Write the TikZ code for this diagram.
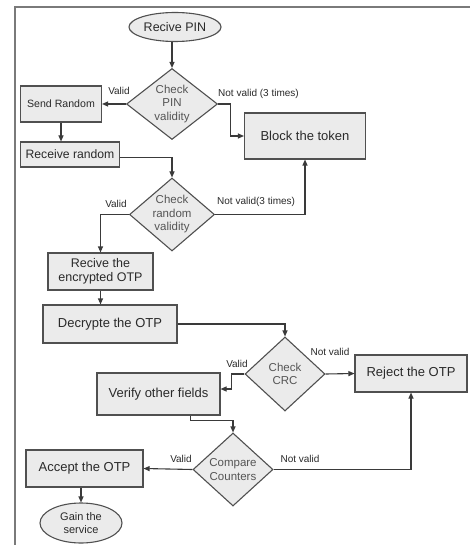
\documentclass[tikz,border=0pt]{standalone}
\usepackage{fontspec}
\setmainfont{Liberation Sans}
\usetikzlibrary{shapes.geometric,arrows.meta}
\definecolor{boxfill}{HTML}{EBEBEB}
\definecolor{edgec}{HTML}{505050}
\definecolor{linec}{HTML}{3A3A3A}
\definecolor{framec}{HTML}{7A7A7A}
\definecolor{txtc}{HTML}{2A2A2A}
\begin{document}
\begin{tikzpicture}[x=1pt,y=-1pt,
  box/.style={rectangle,draw=edgec,fill=boxfill,line width=1.1pt,inner sep=1pt,align=center,text=txtc,font=\fontsize{13}{15}\selectfont},
  oval/.style={ellipse,draw=edgec,fill=boxfill,line width=1.1pt,inner sep=0pt,align=center,text=txtc,font=\fontsize{12.5}{14}\selectfont},
  dia/.style={diamond,draw=edgec,fill=boxfill,line width=1.1pt,inner sep=0pt,shape aspect=1},
  dtext/.style={align=center,text=txtc!80,font=\fontsize{11.5}{13.5}\selectfont,inner sep=0pt},
  lab/.style={text=txtc,font=\fontsize{10}{12}\selectfont,inner sep=0pt},
  conn/.style={draw=linec,line width=1.1pt},
  arr/.style={conn,-{Triangle[length=6pt,width=5pt]}}
]
\useasboundingbox (0,0) rectangle (470,545);
\fill[white] (0,0) rectangle (470,545);
\draw[framec,line width=2pt] (15,545) -- (15,7) -- (470,7);

% nodes
\node[oval,minimum width=92,minimum height=29] (start) at (175,27) {Recive PIN};
\node[dia,minimum width=91,minimum height=71] (d1) at (172,104) {};
\node[dtext] at (d1) {Check\\PIN\\validity};
\node[box,minimum width=81,minimum height=36,font=\fontsize{10.6}{12}\selectfont] (sr) at (61,104) {Send Random};
\node[box,minimum width=121,minimum height=46] (block) at (305,136) {Block the token};
\node[box,minimum width=99,minimum height=25,font=\fontsize{12.2}{14}\selectfont] (rr) at (70,154.5) {Receive random};
\node[dia,minimum width=85,minimum height=73] (d2) at (172,214.5) {};
\node[dtext] at (d2) {Check\\random\\validity};
\node[box,minimum width=105,minimum height=37,font=\fontsize{12.5}{14.5}\selectfont] (enc) at (100.5,271.5) {Recive the\\encrypted OTP};
\node[box,minimum width=134,minimum height=38] (dec) at (110,324) {Decrypte the OTP};
\node[dia,minimum width=80,minimum height=74] (d3) at (285,374) {};
\node[dtext] at (d3) {Check\\CRC};
\node[box,minimum width=112,minimum height=37] (rej) at (411,373.5) {Reject the OTP};
\node[box,minimum width=123,minimum height=42] (ver) at (158.5,394) {Verify other fields};
\node[dia,minimum width=80,minimum height=73] (d4) at (233,469.5) {};
\node[dtext] at (d4) {Compare\\Counters};
\node[box,minimum width=117,minimum height=37] (acc) at (84.5,468.5) {Accept the OTP};
\node[oval,minimum width=82,minimum height=40,font=\fontsize{11}{13}\selectfont] (gain) at (81,523) {Gain the\\service};

% connectors
\draw[arr] (d1.north |- start.south) -- (d1.north);
\draw[arr] (d1.west) -- (sr.east);
\draw[arr] (d1.east) -- ++(12,0) |- (block.west);
\draw[arr] (sr.south) -- (sr.south |- rr.north);
\draw[arr] ([yshift=-3pt]rr.east) -| (d2.north);
\draw[arr] (d2.east) -| (block.south);
\draw[arr] (d2.west) -| (enc.north);
\draw[arr] (enc.south) -- (enc.south |- dec.north);
\draw[arr] (dec.east) -| (d3.north);
\draw[arr] (d3.east) -- (rej.west);
\draw[arr] (d3.west) -- ++(-13,0) |- ([yshift=5pt]ver.east);
\draw[arr] ([xshift=32pt]ver.south) -- ++(0,5) -| (d4.north);
\draw[arr] (d4.west) -- (acc.east);
\draw[arr] (d4.east) -| (rej.south);
\draw[arr] (gain.north |- acc.south) -- (gain.north);

% labels
\node[lab] at (119,91) {Valid};
\node[lab,anchor=west] at (218,94) {Not valid (3 times)};
\node[lab] at (116,204) {Valid};
\node[lab,anchor=west] at (217,202) {Not valid(3 times)};
\node[lab] at (330,352) {Not valid};
\node[lab] at (237,364) {Valid};
\node[lab] at (181,459) {Valid};
\node[lab] at (300,459) {Not valid};
\end{tikzpicture}
\end{document}
